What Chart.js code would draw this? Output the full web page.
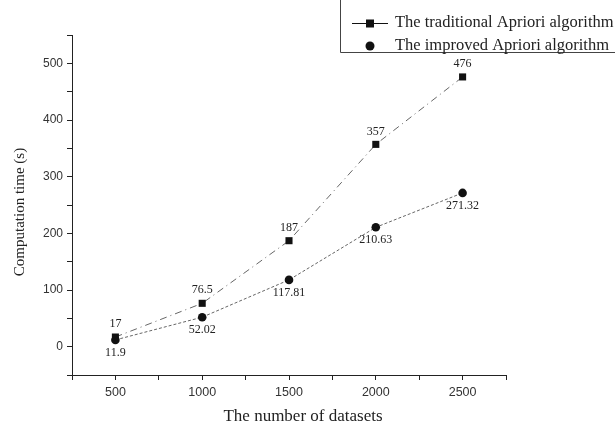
<!DOCTYPE html>
<html>
<head>
<meta charset="utf-8">
<script src="https://cdn.jsdelivr.net/npm/chart.js@4/dist/chart.umd.min.js"></script>
<style>
  html, body { margin: 0; padding: 0; background: #fff; }
  #wrap { width: 615px; height: 426px; position: relative; }
</style>
</head>
<body>
<div id="wrap"><canvas id="chart"></canvas></div>
<script>
const datasetSizes = [500, 1000, 1500, 2000, 2500]
const traditionalTimes = [17, 76.5, 187, 357, 476]
const improvedTimes = [11.9, 52.02, 117.81, 210.63, 271.32]
const traditionalLabels = ["17", "76.5", "187", "357", "476"]
const improvedLabels = ["11.9", "52.02", "117.81", "210.63", "271.32"]
const seriesNames = ["The traditional Apriori algorithm", "The improved Apriori algorithm"]
const xTitle = "The number of datasets"
const yTitle = "Computation time (s)"

const serif = "'Liberation Serif', 'DejaVu Serif', serif"
const sans = "'Liberation Sans', Arial, sans-serif"

// value labels next to each point
const pointLabels = {
  id: "pointLabels",
  afterDatasetsDraw(chart) {
    const ctx = chart.ctx
    ctx.save()
    ctx.font = "12px " + serif
    ctx.fillStyle = "#222"
    ctx.textAlign = "center"
    chart.getDatasetMeta(0).data.forEach((pt, i) => {
      ctx.textBaseline = "bottom"
      ctx.fillText(traditionalLabels[i], pt.x, pt.y - 7)
    })
    chart.getDatasetMeta(1).data.forEach((pt, i) => {
      ctx.textBaseline = "top"
      ctx.fillText(improvedLabels[i], pt.x, pt.y + 7)
    })
    ctx.restore()
  }
}

// axis titles, placed like the original figure
const axisTitles = {
  id: "axisTitles",
  afterDraw(chart) {
    const ctx = chart.ctx
    ctx.save()
    ctx.fillStyle = "#222"
    ctx.textAlign = "center"
    ctx.textBaseline = "middle"
    ctx.font = "17px " + serif
    ctx.fillText(xTitle, 303, 417)
    ctx.translate(20, 212)
    ctx.rotate(-Math.PI / 2)
    ctx.font = "15px " + serif
    ctx.fillText(yTitle, 0, 0)
    ctx.restore()
  }
}

// boxed legend in the top right corner
const boxLegend = {
  id: "boxLegend",
  afterDraw(chart) {
    const ctx = chart.ctx
    ctx.save()
    ctx.strokeStyle = "#444"
    ctx.lineWidth = 1
    ctx.beginPath()
    ctx.moveTo(340.5, 0)
    ctx.lineTo(340.5, 52.5)
    ctx.lineTo(615, 52.5)
    ctx.stroke()

    ctx.strokeStyle = "#111"
    ctx.beginPath()
    ctx.moveTo(352, 23.5)
    ctx.lineTo(388, 23.5)
    ctx.stroke()
    ctx.fillStyle = "#111"
    ctx.fillRect(366, 19.5, 8, 8)
    ctx.beginPath()
    ctx.arc(370, 46, 4.5, 0, Math.PI * 2)
    ctx.fill()

    ctx.font = "16.5px " + serif
    ctx.fillStyle = "#222"
    ctx.textAlign = "left"
    ctx.textBaseline = "middle"
    ctx.fillText(seriesNames[0], 395, 23)
    ctx.fillText(seriesNames[1], 395, 46)
    ctx.restore()
  }
}

const xTicks = [250, 500, 750, 1000, 1250, 1500, 1750, 2000, 2250, 2500, 2750]
const yTicks = [-50, 0, 50, 100, 150, 200, 250, 300, 350, 400, 450, 500, 550]

new Chart(document.getElementById("chart"), {
  type: "line",
  data: {
    datasets: [
      {
        label: seriesNames[0],
        data: datasetSizes.map((x, i) => ({ x, y: traditionalTimes[i] })),
        borderColor: "#666",
        borderWidth: 1,
        borderDash: [7, 4, 1, 4],
        pointStyle: "rect",
        pointRadius: 5,
        pointBackgroundColor: "#111",
        pointBorderColor: "#111",
        pointBorderWidth: 0,
        tension: 0
      },
      {
        label: seriesNames[1],
        data: datasetSizes.map((x, i) => ({ x, y: improvedTimes[i] })),
        borderColor: "#666",
        borderWidth: 1,
        borderDash: [3, 2],
        pointStyle: "circle",
        pointRadius: 4.3,
        pointBackgroundColor: "#111",
        pointBorderColor: "#111",
        pointBorderWidth: 0,
        tension: 0
      }
    ]
  },
  options: {
    responsive: true,
    maintainAspectRatio: false,
    animation: false,
    layout: { padding: { top: 35, right: 109, left: 0, bottom: 0 } },
    plugins: {
      legend: { display: false },
      tooltip: { enabled: false }
    },
    scales: {
      x: {
        type: "linear",
        min: 250,
        max: 2750,
        afterBuildTicks: (scale) => { scale.ticks = xTicks.map(v => ({ value: v })) },
        afterFit: (scale) => { scale.height = 51 },
        grid: { drawOnChartArea: false, tickLength: 5, color: "#222" },
        border: { display: true, color: "#222" },
        ticks: {
          autoSkip: false,
          maxRotation: 0,
          color: "#333",
          font: { family: sans, size: 12.5 },
          padding: 5,
          callback: (v) => (v % 500 === 0 && v >= 500 && v <= 2500) ? String(v) : ""
        }
      },
      y: {
        type: "linear",
        min: -50,
        max: 550,
        afterBuildTicks: (scale) => { scale.ticks = yTicks.map(v => ({ value: v })) },
        afterFit: (scale) => { scale.width = 72 },
        grid: { drawOnChartArea: false, tickLength: 5, color: "#222" },
        border: { display: true, color: "#222" },
        ticks: {
          autoSkip: false,
          color: "#333",
          font: { family: sans, size: 12 },
          padding: 4,
          callback: (v) => (v % 100 === 0 && v >= 0 && v <= 500) ? String(v) : ""
        }
      }
    }
  },
  plugins: [pointLabels, axisTitles, boxLegend]
})
</script>
</body>
</html>
